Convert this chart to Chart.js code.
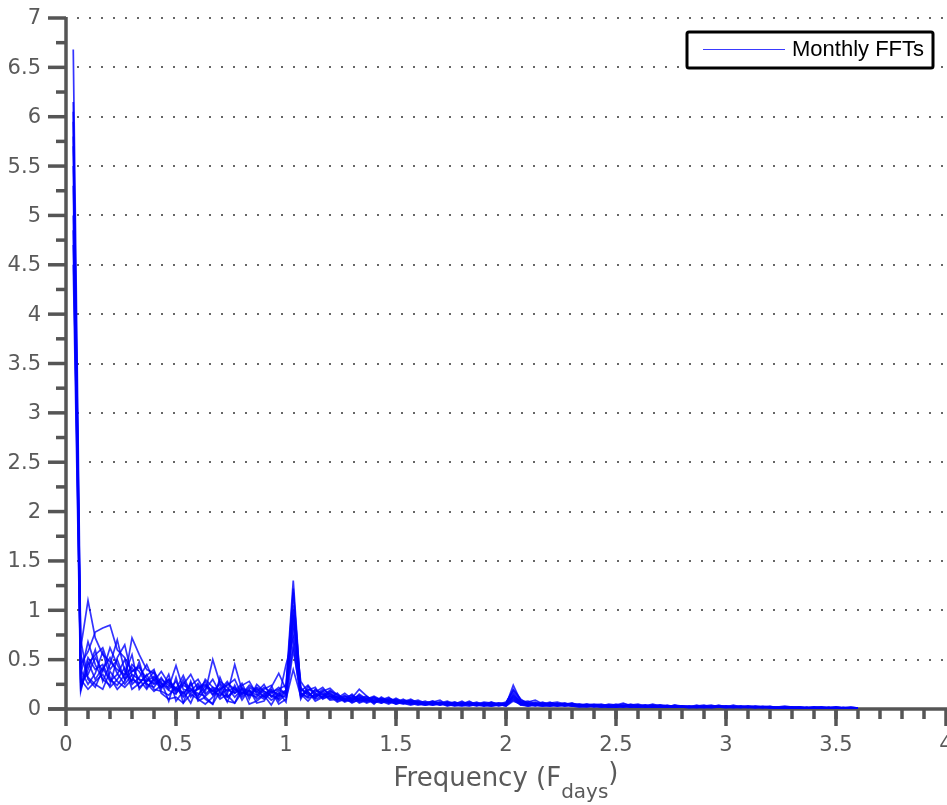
<!DOCTYPE html>
<html>
<head>
<meta charset="utf-8">
<title>Monthly FFTs</title>
<script src="https://cdn.jsdelivr.net/npm/chart.js@4.4.1/dist/chart.umd.min.js"></script>
<style>
  html, body { margin: 0; padding: 0; background: #fff; }
  #wrap { width: 947px; height: 805px; position: relative; }
</style>
</head>
<body>
<div id="wrap"><canvas id="fft"></canvas></div>
<script>
"use strict";

// frequency bins (cycles per day), shared by every month
const freqDays = [
  0.033, 0.067, 0.1, 0.133, 0.167, 0.2, 0.233, 0.267, 0.3, 0.333, 0.367, 0.4,
  0.433, 0.467, 0.5, 0.533, 0.567, 0.6, 0.633, 0.667, 0.7, 0.733, 0.767, 0.8,
  0.833, 0.867, 0.9, 0.933, 0.967, 1.0, 1.033, 1.067, 1.1, 1.133, 1.167, 1.2,
  1.233, 1.267, 1.3, 1.333, 1.367, 1.4, 1.433, 1.467, 1.5, 1.533, 1.567, 1.6,
  1.633, 1.667, 1.7, 1.733, 1.767, 1.8, 1.833, 1.867, 1.9, 1.933, 1.967, 2.0,
  2.033, 2.067, 2.1, 2.133, 2.167, 2.2, 2.233, 2.267, 2.3, 2.333, 2.367, 2.4,
  2.433, 2.467, 2.5, 2.533, 2.567, 2.6, 2.633, 2.667, 2.7, 2.733, 2.767, 2.8,
  2.833, 2.867, 2.9, 2.933, 2.967, 3.0, 3.033, 3.067, 3.1, 3.133, 3.167, 3.2,
  3.233, 3.267, 3.3, 3.333, 3.367, 3.4, 3.433, 3.467, 3.5, 3.533, 3.567, 3.6
];

// FFT magnitudes, one array per month
const fftJan = [
  6.68, 0.62, 1.10, 0.72, 0.55, 0.48, 0.40, 0.35, 0.42, 0.30, 0.28, 0.33,
  0.25, 0.22, 0.44, 0.20, 0.18, 0.26, 0.15, 0.22, 0.19, 0.28, 0.16, 0.21,
  0.18, 0.14, 0.22, 0.17, 0.20, 0.24, 1.30, 0.18, 0.24, 0.15, 0.12, 0.17,
  0.10, 0.14, 0.08, 0.11, 0.13, 0.07, 0.09, 0.12, 0.06, 0.08, 0.07, 0.05,
  0.06, 0.08, 0.05, 0.07, 0.04, 0.06, 0.05, 0.07, 0.04, 0.05, 0.06, 0.04,
  0.24, 0.08, 0.06, 0.05, 0.07, 0.04, 0.05, 0.06, 0.04, 0.05, 0.03, 0.04,
  0.05, 0.03, 0.04, 0.06, 0.03, 0.04, 0.03, 0.05, 0.03, 0.02, 0.04, 0.03,
  0.03, 0.02, 0.03, 0.04, 0.02, 0.03, 0.02, 0.03, 0.02, 0.03, 0.02, 0.02,
  0.02, 0.03, 0.02, 0.02, 0.01, 0.02, 0.02, 0.01, 0.02, 0.01, 0.02, 0.01
];
const fftFeb = [
  6.15, 0.45, 0.58, 0.78, 0.82, 0.85, 0.60, 0.52, 0.38, 0.42, 0.31, 0.26,
  0.30, 0.24, 0.19, 0.27, 0.21, 0.14, 0.23, 0.18, 0.25, 0.12, 0.20, 0.17,
  0.14, 0.21, 0.12, 0.18, 0.15, 0.19, 1.18, 0.22, 0.13, 0.19, 0.16, 0.10,
  0.13, 0.09, 0.15, 0.08, 0.10, 0.12, 0.06, 0.09, 0.07, 0.10, 0.05, 0.07,
  0.05, 0.07, 0.09, 0.04, 0.06, 0.05, 0.08, 0.04, 0.06, 0.05, 0.04, 0.06,
  0.20, 0.10, 0.05, 0.07, 0.04, 0.06, 0.05, 0.04, 0.06, 0.03, 0.05, 0.04,
  0.03, 0.05, 0.04, 0.03, 0.05, 0.03, 0.04, 0.02, 0.04, 0.03, 0.03, 0.02,
  0.02, 0.03, 0.04, 0.02, 0.03, 0.02, 0.03, 0.02, 0.02, 0.03, 0.02, 0.01,
  0.02, 0.01, 0.02, 0.02, 0.01, 0.02, 0.01, 0.02, 0.01, 0.01, 0.02, 0.01
];
const fftMar = [
  6.05, 0.28, 0.35, 0.52, 0.38, 0.62, 0.45, 0.30, 0.72, 0.55, 0.40, 0.36,
  0.22, 0.30, 0.18, 0.25, 0.35, 0.20, 0.28, 0.15, 0.20, 0.24, 0.30, 0.14,
  0.22, 0.17, 0.25, 0.12, 0.19, 0.16, 1.05, 0.14, 0.20, 0.17, 0.22, 0.13,
  0.11, 0.16, 0.10, 0.14, 0.09, 0.11, 0.08, 0.10, 0.09, 0.06, 0.08, 0.06,
  0.07, 0.05, 0.06, 0.08, 0.05, 0.07, 0.04, 0.05, 0.07, 0.06, 0.05, 0.07,
  0.17, 0.07, 0.08, 0.05, 0.04, 0.06, 0.07, 0.05, 0.04, 0.05, 0.04, 0.03,
  0.04, 0.03, 0.05, 0.03, 0.04, 0.05, 0.03, 0.03, 0.04, 0.03, 0.02, 0.03,
  0.02, 0.04, 0.02, 0.03, 0.03, 0.02, 0.04, 0.02, 0.03, 0.02, 0.02, 0.03,
  0.01, 0.02, 0.02, 0.01, 0.02, 0.01, 0.02, 0.01, 0.02, 0.01, 0.01, 0.01
];
const fftApr = [
  5.95, 0.18, 0.48, 0.30, 0.42, 0.28, 0.35, 0.50, 0.25, 0.32, 0.45, 0.28,
  0.38, 0.26, 0.21, 0.16, 0.24, 0.30, 0.17, 0.50, 0.26, 0.18, 0.22, 0.12,
  0.19, 0.10, 0.15, 0.20, 0.13, 0.18, 0.95, 0.16, 0.11, 0.14, 0.20, 0.15,
  0.12, 0.08, 0.11, 0.20, 0.13, 0.08, 0.10, 0.07, 0.06, 0.09, 0.08, 0.05,
  0.04, 0.06, 0.05, 0.04, 0.07, 0.05, 0.06, 0.04, 0.05, 0.04, 0.06, 0.05,
  0.15, 0.06, 0.04, 0.06, 0.05, 0.07, 0.04, 0.05, 0.03, 0.04, 0.05, 0.03,
  0.03, 0.04, 0.03, 0.02, 0.04, 0.03, 0.03, 0.04, 0.02, 0.03, 0.03, 0.02,
  0.03, 0.02, 0.02, 0.03, 0.02, 0.02, 0.03, 0.02, 0.02, 0.02, 0.03, 0.02,
  0.01, 0.01, 0.02, 0.01, 0.01, 0.02, 0.01, 0.01, 0.01, 0.02, 0.01, 0.01
];
const fftMay = [
  5.80, 0.55, 0.32, 0.25, 0.20, 0.38, 0.28, 0.22, 0.30, 0.26, 0.35, 0.20,
  0.18, 0.14, 0.22, 0.12, 0.19, 0.16, 0.13, 0.20, 0.10, 0.15, 0.45, 0.19,
  0.13, 0.20, 0.16, 0.09, 0.14, 0.12, 0.88, 0.28, 0.17, 0.10, 0.13, 0.18,
  0.15, 0.10, 0.07, 0.09, 0.11, 0.05, 0.12, 0.08, 0.07, 0.05, 0.09, 0.07,
  0.06, 0.04, 0.07, 0.05, 0.03, 0.05, 0.06, 0.04, 0.05, 0.03, 0.05, 0.04,
  0.13, 0.05, 0.06, 0.04, 0.03, 0.05, 0.04, 0.06, 0.04, 0.03, 0.04, 0.02,
  0.04, 0.02, 0.03, 0.04, 0.02, 0.03, 0.04, 0.02, 0.03, 0.02, 0.03, 0.02,
  0.02, 0.03, 0.02, 0.02, 0.04, 0.02, 0.02, 0.03, 0.02, 0.02, 0.02, 0.02,
  0.02, 0.01, 0.01, 0.02, 0.01, 0.01, 0.02, 0.01, 0.01, 0.01, 0.01, 0.01
];
const fftJun = [
  5.70, 0.35, 0.68, 0.45, 0.30, 0.24, 0.52, 0.65, 0.33, 0.22, 0.28, 0.38,
  0.26, 0.19, 0.15, 0.30, 0.12, 0.22, 0.25, 0.18, 0.14, 0.20, 0.16, 0.24,
  0.28, 0.15, 0.10, 0.16, 0.22, 0.14, 0.80, 0.12, 0.19, 0.22, 0.10, 0.14,
  0.09, 0.12, 0.14, 0.07, 0.10, 0.13, 0.09, 0.06, 0.10, 0.07, 0.06, 0.08,
  0.05, 0.07, 0.04, 0.06, 0.05, 0.08, 0.04, 0.06, 0.03, 0.07, 0.04, 0.05,
  0.12, 0.06, 0.07, 0.09, 0.05, 0.04, 0.06, 0.03, 0.05, 0.04, 0.03, 0.04,
  0.03, 0.04, 0.02, 0.03, 0.03, 0.04, 0.02, 0.03, 0.03, 0.04, 0.02, 0.03,
  0.02, 0.02, 0.03, 0.02, 0.02, 0.03, 0.02, 0.02, 0.03, 0.02, 0.01, 0.02,
  0.01, 0.02, 0.01, 0.01, 0.02, 0.01, 0.01, 0.01, 0.02, 0.01, 0.01, 0.01
];
const fftJul = [
  5.50, 0.40, 0.25, 0.36, 0.58, 0.32, 0.20, 0.28, 0.45, 0.38, 0.25, 0.22,
  0.32, 0.20, 0.28, 0.14, 0.26, 0.10, 0.20, 0.30, 0.16, 0.12, 0.18, 0.26,
  0.10, 0.25, 0.18, 0.14, 0.11, 0.45, 0.72, 0.20, 0.15, 0.12, 0.18, 0.11,
  0.16, 0.08, 0.13, 0.10, 0.06, 0.09, 0.11, 0.08, 0.05, 0.07, 0.10, 0.06,
  0.08, 0.05, 0.06, 0.04, 0.06, 0.04, 0.07, 0.05, 0.04, 0.06, 0.03, 0.05,
  0.11, 0.04, 0.05, 0.03, 0.06, 0.05, 0.03, 0.04, 0.05, 0.03, 0.04, 0.03,
  0.02, 0.03, 0.04, 0.02, 0.03, 0.02, 0.04, 0.03, 0.02, 0.03, 0.02, 0.03,
  0.02, 0.02, 0.02, 0.03, 0.02, 0.02, 0.02, 0.03, 0.02, 0.01, 0.02, 0.02,
  0.01, 0.01, 0.01, 0.02, 0.01, 0.01, 0.01, 0.02, 0.01, 0.01, 0.01, 0.01
];
const fftAug = [
  5.30, 0.22, 0.40, 0.60, 0.28, 0.45, 0.70, 0.38, 0.28, 0.48, 0.22, 0.30,
  0.20, 0.35, 0.08, 0.18, 0.06, 0.24, 0.10, 0.05, 0.32, 0.14, 0.06, 0.17,
  0.15, 0.12, 0.20, 0.24, 0.08, 0.15, 0.65, 0.10, 0.23, 0.13, 0.15, 0.09,
  0.10, 0.13, 0.09, 0.12, 0.08, 0.10, 0.07, 0.11, 0.08, 0.06, 0.05, 0.07,
  0.05, 0.06, 0.04, 0.07, 0.04, 0.05, 0.05, 0.03, 0.06, 0.04, 0.05, 0.03,
  0.10, 0.05, 0.04, 0.06, 0.04, 0.03, 0.05, 0.04, 0.03, 0.04, 0.03, 0.04,
  0.03, 0.02, 0.03, 0.03, 0.02, 0.04, 0.02, 0.02, 0.03, 0.02, 0.03, 0.02,
  0.02, 0.02, 0.01, 0.02, 0.03, 0.02, 0.02, 0.02, 0.01, 0.02, 0.02, 0.01,
  0.01, 0.01, 0.02, 0.01, 0.01, 0.01, 0.01, 0.01, 0.01, 0.01, 0.01, 0.01
];
const fftSep = [
  5.00, 0.30, 0.20, 0.28, 0.35, 0.22, 0.30, 0.42, 0.20, 0.26, 0.34, 0.40,
  0.16, 0.10, 0.12, 0.06, 0.28, 0.08, 0.12, 0.05, 0.18, 0.08, 0.06, 0.22,
  0.05, 0.08, 0.14, 0.04, 0.17, 0.07, 0.60, 0.15, 0.08, 0.16, 0.11, 0.13,
  0.07, 0.10, 0.12, 0.06, 0.09, 0.07, 0.08, 0.05, 0.09, 0.06, 0.04, 0.06,
  0.04, 0.05, 0.06, 0.03, 0.05, 0.04, 0.03, 0.05, 0.04, 0.03, 0.04, 0.04,
  0.09, 0.04, 0.03, 0.05, 0.04, 0.03, 0.04, 0.03, 0.04, 0.03, 0.02, 0.03,
  0.02, 0.03, 0.02, 0.03, 0.02, 0.02, 0.03, 0.02, 0.02, 0.03, 0.02, 0.02,
  0.01, 0.02, 0.02, 0.01, 0.02, 0.02, 0.01, 0.02, 0.02, 0.01, 0.02, 0.01,
  0.01, 0.01, 0.01, 0.01, 0.01, 0.01, 0.01, 0.01, 0.01, 0.01, 0.01, 0.01
];
const fftOct = [
  4.85, 0.25, 0.52, 0.40, 0.45, 0.30, 0.24, 0.35, 0.55, 0.20, 0.30, 0.25,
  0.28, 0.08, 0.32, 0.06, 0.15, 0.10, 0.05, 0.12, 0.22, 0.07, 0.24, 0.09,
  0.20, 0.06, 0.08, 0.19, 0.05, 0.10, 0.40, 0.13, 0.18, 0.08, 0.12, 0.16,
  0.08, 0.11, 0.06, 0.10, 0.12, 0.08, 0.06, 0.09, 0.05, 0.08, 0.06, 0.04,
  0.06, 0.04, 0.05, 0.06, 0.04, 0.03, 0.05, 0.04, 0.03, 0.04, 0.05, 0.03,
  0.08, 0.05, 0.03, 0.04, 0.03, 0.04, 0.03, 0.05, 0.03, 0.02, 0.03, 0.03,
  0.03, 0.02, 0.02, 0.03, 0.03, 0.02, 0.02, 0.03, 0.02, 0.02, 0.02, 0.03,
  0.02, 0.01, 0.02, 0.02, 0.02, 0.01, 0.02, 0.01, 0.02, 0.02, 0.01, 0.02,
  0.01, 0.01, 0.01, 0.01, 0.01, 0.01, 0.01, 0.01, 0.01, 0.01, 0.01, 0.01
];
const fftNov = [
  4.70, 0.70, 0.30, 0.22, 0.40, 0.52, 0.36, 0.25, 0.35, 0.30, 0.20, 0.32,
  0.22, 0.28, 0.16, 0.24, 0.20, 0.12, 0.30, 0.22, 0.12, 0.26, 0.20, 0.15,
  0.24, 0.18, 0.12, 0.22, 0.36, 0.20, 1.22, 0.16, 0.12, 0.20, 0.14, 0.19,
  0.12, 0.07, 0.10, 0.13, 0.07, 0.12, 0.09, 0.07, 0.11, 0.07, 0.07, 0.09,
  0.06, 0.08, 0.05, 0.06, 0.07, 0.04, 0.05, 0.06, 0.05, 0.07, 0.05, 0.06,
  0.19, 0.09, 0.06, 0.04, 0.06, 0.05, 0.04, 0.05, 0.06, 0.04, 0.04, 0.05,
  0.04, 0.03, 0.03, 0.05, 0.04, 0.03, 0.03, 0.04, 0.03, 0.02, 0.04, 0.02,
  0.03, 0.02, 0.03, 0.02, 0.03, 0.03, 0.02, 0.02, 0.03, 0.02, 0.02, 0.02,
  0.02, 0.02, 0.01, 0.02, 0.01, 0.02, 0.01, 0.01, 0.02, 0.01, 0.01, 0.01
];
const fftDec = [
  4.50, 0.20, 0.45, 0.55, 0.62, 0.40, 0.50, 0.30, 0.38, 0.44, 0.26, 0.18,
  0.24, 0.30, 0.20, 0.34, 0.16, 0.20, 0.24, 0.14, 0.28, 0.22, 0.12, 0.20,
  0.16, 0.22, 0.18, 0.13, 0.10, 0.18, 1.00, 0.20, 0.16, 0.11, 0.18, 0.21,
  0.14, 0.10, 0.08, 0.15, 0.10, 0.06, 0.10, 0.09, 0.08, 0.07, 0.08, 0.06,
  0.05, 0.06, 0.07, 0.05, 0.04, 0.06, 0.05, 0.05, 0.06, 0.04, 0.06, 0.05,
  0.14, 0.07, 0.05, 0.05, 0.04, 0.06, 0.05, 0.04, 0.05, 0.04, 0.03, 0.04,
  0.03, 0.04, 0.03, 0.03, 0.04, 0.02, 0.03, 0.03, 0.04, 0.02, 0.03, 0.02,
  0.02, 0.03, 0.02, 0.02, 0.02, 0.03, 0.02, 0.02, 0.02, 0.02, 0.02, 0.02,
  0.01, 0.02, 0.01, 0.01, 0.01, 0.01, 0.02, 0.01, 0.01, 0.01, 0.01, 0.01
];

const months = [fftJan, fftFeb, fftMar, fftApr, fftMay, fftJun,
                fftJul, fftAug, fftSep, fftOct, fftNov, fftDec];

// axis ticks
const xMajorTicks = [0, 0.5, 1, 1.5, 2, 2.5, 3, 3.5, 4];
const yMajorTicks = [0, 0.5, 1, 1.5, 2, 2.5, 3, 3.5, 4, 4.5, 5, 5.5, 6, 6.5, 7];
const xMinorStep = 0.1;
const yMinorStep = 0.25;

const AXIS = '#555555';
const TEXT = '#5a5a5a';
const LINE = 'rgba(0, 0, 255, 0.8)';
const FONT = '"DejaVu Sans", sans-serif';

// grid dots, axis lines, ticks and labels are drawn by hand
const axesPlugin = {
  id: 'axesPlugin',
  beforeDatasetsDraw(chart) {
    const ctx = chart.ctx;
    const a = chart.chartArea;
    const xs = chart.scales.x, ys = chart.scales.y;
    ctx.save();

    // dotted horizontal grid
    ctx.strokeStyle = '#666';
    ctx.lineWidth = 2;
    ctx.setLineDash([2, 10]);
    yMajorTicks.forEach(v => {
      if (v === 0) return;
      const py = Math.round(ys.getPixelForValue(v));
      ctx.beginPath();
      ctx.moveTo(a.left + 11, py);
      ctx.lineTo(a.right + 2, py);
      ctx.stroke();
    });
    ctx.setLineDash([]);

    ctx.strokeStyle = AXIS;
    ctx.lineCap = 'butt';
    const x0 = xs.getPixelForValue(0);
    const y0 = ys.getPixelForValue(0);

    // minor ticks
    ctx.lineWidth = 3.5;
    for (let v = xMinorStep; v < 4; v += xMinorStep) {
      const px = xs.getPixelForValue(v);
      ctx.beginPath(); ctx.moveTo(px, y0); ctx.lineTo(px, y0 + 10); ctx.stroke();
    }
    for (let v = yMinorStep; v < 7; v += 2 * yMinorStep) {
      const py = ys.getPixelForValue(v);
      ctx.beginPath(); ctx.moveTo(x0, py); ctx.lineTo(x0 - 10, py); ctx.stroke();
    }

    // major ticks
    xMajorTicks.forEach(v => {
      const px = xs.getPixelForValue(v);
      ctx.beginPath(); ctx.moveTo(px, y0); ctx.lineTo(px, y0 + 17); ctx.stroke();
    });
    yMajorTicks.forEach(v => {
      const py = ys.getPixelForValue(v);
      ctx.beginPath(); ctx.moveTo(x0, py); ctx.lineTo(x0 - 18, py); ctx.stroke();
    });

    // axis lines
    ctx.beginPath();
    ctx.moveTo(x0, ys.getPixelForValue(7) - 1);
    ctx.lineTo(x0, y0);
    ctx.stroke();
    ctx.beginPath();
    ctx.moveTo(x0 - 18, y0);
    ctx.lineTo(chart.width, y0);
    ctx.stroke();

    // tick labels
    ctx.fillStyle = TEXT;
    ctx.font = '21px ' + FONT;
    ctx.textBaseline = 'middle';
    ctx.textAlign = 'right';
    yMajorTicks.forEach(v => {
      ctx.fillText(String(v), x0 - 25, ys.getPixelForValue(v) + 1);
    });
    ctx.textAlign = 'center';
    xMajorTicks.forEach(v => {
      ctx.fillText(String(v), xs.getPixelForValue(v), y0 + 37);
    });

    // axis title with subscript
    const main = 'Frequency (F';
    const sub = 'days';
    const close = ')';
    ctx.textBaseline = 'alphabetic';
    ctx.textAlign = 'left';
    ctx.font = '26px ' + FONT;
    const wMain = ctx.measureText(main).width;
    const wClose = ctx.measureText(close).width;
    ctx.font = '20px ' + FONT;
    const wSub = ctx.measureText(sub).width;
    let tx = (a.left + a.right) / 2 - (wMain + wSub + wClose) / 2;
    const base = y0 + 77;
    ctx.font = '26px ' + FONT;
    ctx.fillText(main, tx, base);
    tx += wMain;
    ctx.font = '20px ' + FONT;
    ctx.fillText(sub, tx, base + 12);
    tx += wSub;
    ctx.font = '26px ' + FONT;
    ctx.fillText(close, tx, base - 5);

    ctx.restore();
  },
  afterDraw(chart) {
    // legend box, top right
    const ctx = chart.ctx;
    const label = chart.data.datasets[0].label;
    ctx.save();
    ctx.fillStyle = '#fff';
    ctx.strokeStyle = '#000';
    ctx.lineWidth = 3;
    ctx.beginPath();
    ctx.roundRect(687, 32, 246, 36, 2);
    ctx.fill();
    ctx.stroke();
    ctx.strokeStyle = '#3a3aff';
    ctx.lineWidth = 1.2;
    ctx.beginPath();
    ctx.moveTo(703, 49.5);
    ctx.lineTo(785, 49.5);
    ctx.stroke();
    ctx.fillStyle = '#000';
    ctx.font = '22px "Liberation Sans", Arial, sans-serif';
    ctx.textBaseline = 'middle';
    ctx.textAlign = 'left';
    ctx.fillText(label, 792, 50);
    ctx.restore();
  }
};

const datasets = months.map(vals => ({
  label: 'Monthly FFTs',
  data: freqDays.map((f, k) => ({ x: f, y: vals[k] })),
  borderColor: LINE,
  borderWidth: 1.7,
  pointRadius: 0,
  tension: 0,
  fill: false
}));

new Chart(document.getElementById('fft').getContext('2d'), {
  type: 'line',
  data: { datasets: datasets },
  options: {
    responsive: true,
    maintainAspectRatio: false,
    animation: false,
    layout: { padding: { left: 66, top: 18, right: 1, bottom: 96 } },
    scales: {
      x: { type: 'linear', min: 0, max: 4, display: false },
      y: { type: 'linear', min: 0, max: 7, display: false }
    },
    plugins: {
      legend: { display: false },
      tooltip: { enabled: false }
    }
  },
  plugins: [axesPlugin]
});
</script>
</body>
</html>
